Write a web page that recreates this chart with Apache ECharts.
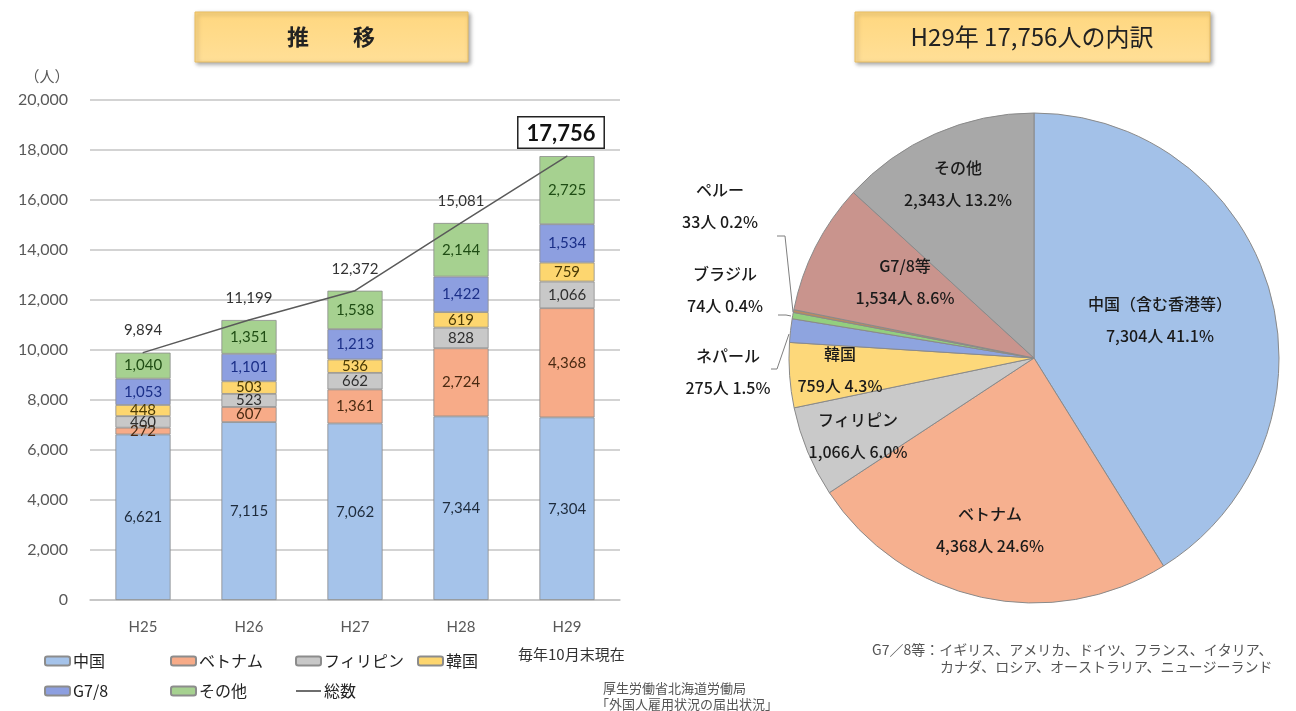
<!DOCTYPE html>
<html>
<head>
<meta charset="utf-8">
<title>外国人労働者数 推移と内訳</title>
<script src="https://cdn.jsdelivr.net/npm/echarts@6/dist/echarts.min.js"></script>
<style>
    html, body { margin: 0; padding: 0; background: #fff; }
    #main { width: 1296px; height: 711px; }
</style>
</head>
<body>
<div id="main"></div>
<script>
    // 推移（各年10月末現在）
    var years = ['H25', 'H26', 'H27', 'H28', 'H29'];
    var china = [6621, 7115, 7062, 7344, 7304];
    var vietnam = [272, 607, 1361, 2724, 4368];
    var philippines = [460, 523, 662, 828, 1066];
    var korea = [448, 503, 536, 619, 759];
    var g78 = [1053, 1101, 1213, 1422, 1534];
    var others = [1040, 1351, 1538, 2144, 2725];
    var totals = [9894, 11199, 12372, 15081, 17756];

    // H29 内訳
    var pieNames = ['中国（含む香港等）', 'ベトナム', 'フィリピン', '韓国', 'ネパール', 'ブラジル', 'ペルー', 'G7/8等', 'その他'];
    var pieValues = [7304, 4368, 1066, 759, 275, 74, 33, 1534, 2343];
    var pieTotal = 17756;

    var JP = "'Noto Sans CJK JP', sans-serif";
    var NUM = "Lato, 'Noto Sans CJK JP', sans-serif";
    var pieColors = ['#a3c1e8', '#f6b08f', '#c9c9c9', '#fdd87a', '#8ea4df', '#93cf7e', '#b98a62', '#c9948d', '#a8a8a8'];
    var pieLabelPos = [[1160, 320], [990, 530], [858, 436], [840, 370], [728, 372], [725, 290], [720, 206], [905, 282], [958, 184]];
    // leader lines for the three small slices (slice edge -> bend -> label end)
    var pieLeader = {
        4: [[789, 334], [777, 369], [771, 369]],
        5: [[791, 316], [786, 315], [778, 315]],
        6: [[793, 312], [785, 236], [777, 236]]
    };

    function fmt(v) {
        return Number(v).toLocaleString('en-US');
    }

    function barSeries(name, data, color, textColor) {
        return {
            name: name,
            type: 'bar',
            stack: 'total',
            barWidth: '52%',
            data: data,
            itemStyle: { color: color, borderColor: '#8c8c8c', borderWidth: 0.8 },
            label: {
                show: true,
                position: 'inside',
                color: textColor,
                fontSize: 15,
                fontFamily: NUM,
                formatter: function (p) { return fmt(p.value); }
            }
        };
    }

    var chart = echarts.init(document.getElementById('main'));

    var lineData = totals.map(function (v, i) {
        if (i === totals.length - 1) {
            return {
                value: v,
                label: {
                    fontSize: 22, fontWeight: 'bold', color: '#111',
                    borderColor: '#222', borderWidth: 1.5, backgroundColor: '#fff',
                    padding: [5, 8, 3, 8], distance: 8, offset: [-6, 0]
                }
            };
        }
        return v;
    });

    var pieData = pieNames.map(function (n, i) {
        var item = { name: n, value: pieValues[i], itemStyle: { color: pieColors[i] } };
        if (pieLeader[i]) {
            item.label = { position: 'outside' };
            item.labelLine = { show: true, length: 8, length2: 8, lineStyle: { color: '#7f7f7f', width: 1 } };
        }
        return item;
    });

    // 総数 is shown in the legend as a plain thin line
    var lineIcon = 'path://M0,0 L100,0 L100,7 L0,7 Z';

    var option = {
        animation: false,
        backgroundColor: '#fff',
        grid: { left: 90, right: 676, top: 100, bottom: 111 },
        xAxis: {
            type: 'category',
            data: years,
            axisTick: { show: false },
            axisLine: { lineStyle: { color: '#c4c4c4', width: 1.5 } },
            axisLabel: { color: '#595959', fontSize: 15, fontFamily: NUM, margin: 20 }
        },
        yAxis: {
            type: 'value',
            min: 0, max: 20000, interval: 2000,
            axisLabel: { color: '#595959', fontSize: 16, fontFamily: NUM, margin: 22, formatter: fmt },
            splitLine: { lineStyle: { color: '#c4c4c4', width: 1.5 } }
        },
        legend: [
            { left: 44, data: ['中国', 'G7/8'] },
            { left: 170, data: ['ベトナム', 'その他'] },
            { left: 295, data: ['フィリピン', { name: '総数', icon: lineIcon }] },
            { left: 417, data: ['韓国'] }
        ].map(function (l) {
            return {
                left: l.left, top: 652, orient: 'vertical', data: l.data, padding: 0,
                itemWidth: 25, itemHeight: 9, itemGap: 12, icon: 'roundRect',
                symbolKeepAspect: true,
                textStyle: { fontSize: 16, color: '#222', fontFamily: JP, lineHeight: 18, padding: [0, 0, 0, -2] }
            };
        }),
        series: [
            barSeries('中国', china, '#a5c3ea', '#1e2b3c'),
            barSeries('ベトナム', vietnam, '#f7ab88', '#4a2a12'),
            barSeries('フィリピン', philippines, '#c8c8c8', '#2f2f2f'),
            barSeries('韓国', korea, '#fdd66f', '#4a3a05'),
            barSeries('G7/8', g78, '#8d9fe0', '#1b2f88'),
            barSeries('その他', others, '#a6d190', '#1f4d14'),
            {
                name: '総数',
                type: 'line',
                data: lineData,
                symbol: 'circle',
                symbolSize: 1,
                z: 5,
                lineStyle: { color: '#5a5a5a', width: 1.5 },
                itemStyle: { color: '#5a5a5a' },
                label: {
                    show: true, position: 'top', distance: 14,
                    color: '#333', fontSize: 15, fontFamily: NUM,
                    formatter: function (p) { return fmt(p.value); }
                }
            },
            {
                name: '内訳',
                type: 'pie',
                center: [1034, 358],
                radius: 245,
                startAngle: 90,
                clockwise: true,
                avoidLabelOverlap: false,
                data: pieData,
                itemStyle: { borderColor: '#8a8a8a', borderWidth: 1 },
                label: {
                    show: true,
                    position: 'inside',
                    color: '#1a1a1a',
                    fontSize: 16,
                    fontWeight: 500,
                    lineHeight: 32,
                    fontFamily: JP,
                    formatter: function (p) {
                        return p.name + '\n' + fmt(p.value) + '人 ' + (p.value / pieTotal * 100).toFixed(1) + '%';
                    }
                },
                labelLine: { show: false },
                labelLayout: function (p) {
                    var pos = pieLabelPos[p.dataIndex];
                    var res = { x: pos[0], y: pos[1], align: 'center', verticalAlign: 'middle' };
                    if (pieLeader[p.dataIndex]) {
                        res.labelLinePoints = pieLeader[p.dataIndex];
                    }
                    return res;
                }
            }
        ],
        graphic: [
            {
                type: 'rect', shape: { x: 195, y: 12, width: 273, height: 50 },
                style: {
                    fill: new echarts.graphic.LinearGradient(0, 0, 0, 1, [
                        { offset: 0, color: '#ffd77f' }, { offset: 1, color: '#ffdf97' }
                    ]),
                    stroke: '#e8bd63', lineWidth: 1,
                    shadowBlur: 4, shadowOffsetX: 2, shadowOffsetY: 2, shadowColor: 'rgba(0,0,0,0.35)'
                }
            },
            {
                type: 'text', x: 331, y: 37,
                style: { text: '推　　移', fontSize: 22, fontWeight: 'bold', fill: '#222', fontFamily: JP, align: 'center', verticalAlign: 'middle' }
            },
            {
                type: 'rect', shape: { x: 855, y: 12, width: 355, height: 50 },
                style: {
                    fill: new echarts.graphic.LinearGradient(0, 0, 0, 1, [
                        { offset: 0, color: '#ffd77f' }, { offset: 1, color: '#ffdf97' }
                    ]),
                    stroke: '#e8bd63', lineWidth: 1,
                    shadowBlur: 4, shadowOffsetX: 2, shadowOffsetY: 2, shadowColor: 'rgba(0,0,0,0.35)'
                }
            },
            {
                type: 'text', x: 1032, y: 37,
                style: { text: 'H29年 17,756人の内訳', fontSize: 24, fill: '#222', fontFamily: JP, align: 'center', verticalAlign: 'middle' }
            },
            {
                type: 'text', x: 47, y: 76,
                style: { text: '（人）', fontSize: 15, fill: '#595959', fontFamily: JP, align: 'center', verticalAlign: 'middle' }
            },
            {
                type: 'text', x: 518, y: 654,
                style: { text: '毎年10月末現在', fontSize: 15, fill: '#333', fontFamily: JP, verticalAlign: 'middle' }
            },
            {
                type: 'text', x: 603, y: 688,
                style: { text: '厚生労働省北海道労働局', fontSize: 13, fill: '#555', fontFamily: JP, verticalAlign: 'middle' }
            },
            {
                type: 'text', x: 596, y: 704,
                style: { text: '「外国人雇用状況の届出状況」', fontSize: 13, fill: '#555', fontFamily: JP, verticalAlign: 'middle' }
            },
            {
                type: 'text', x: 872, y: 650,
                style: { text: 'G7／8等：イギリス、アメリカ、ドイツ、フランス、イタリア、', fontSize: 14, fill: '#555', fontFamily: JP, verticalAlign: 'middle' }
            },
            {
                type: 'text', x: 940, y: 667,
                style: { text: 'カナダ、ロシア、オーストラリア、ニュージーランド', fontSize: 14, fill: '#555', fontFamily: JP, verticalAlign: 'middle' }
            }
        ]
    };

    chart.setOption(option);
</script>
</body>
</html>
